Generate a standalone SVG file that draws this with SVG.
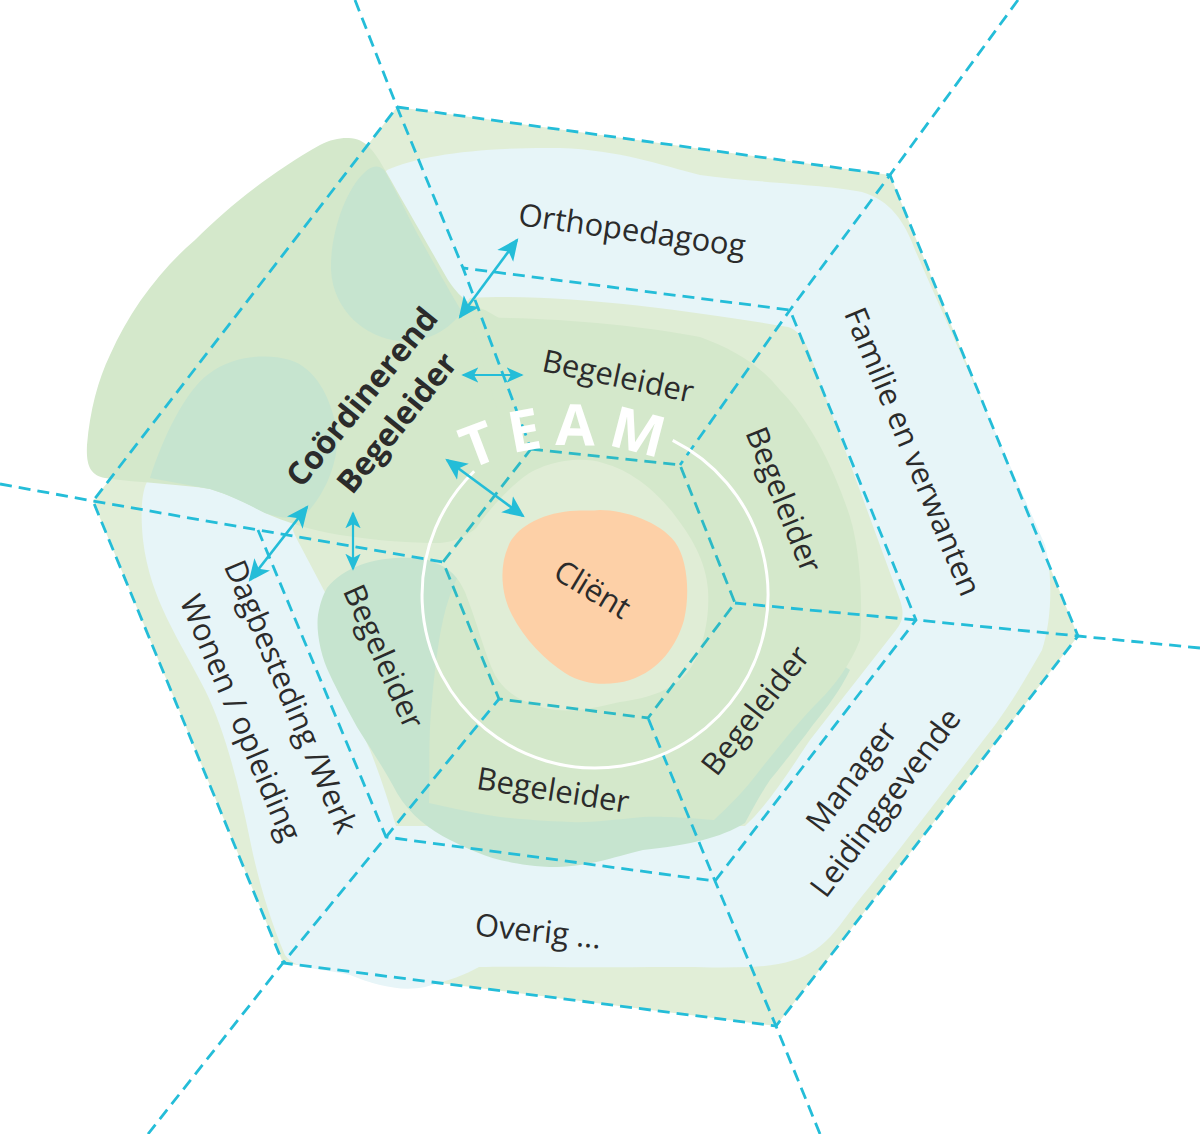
<svg xmlns="http://www.w3.org/2000/svg" width="1200" height="1134" viewBox="0 0 1200 1134">
<style>
.d{fill:none;stroke:#24bdd8;stroke-width:2.8;stroke-dasharray:12 7}
.di{fill:none;stroke:#2cbac6;stroke-width:2.8;stroke-dasharray:12 7}
.t{font-family:"Open Sans","Liberation Sans",sans-serif;font-size:31px;fill:#2b2b2b;text-anchor:middle}
.b{font-weight:bold;font-size:32px}
.ar{fill:none;stroke:#24bdd8;stroke-width:2.6;marker-start:url(#ah);marker-end:url(#ah)}
.as{fill:none;stroke:#24bdd8;stroke-width:2.2;marker-start:url(#ahs);marker-end:url(#ahs)}
</style>
<defs>
<marker id="ah" viewBox="0 0 20 20" refX="18" refY="10" markerWidth="22" markerHeight="22" markerUnits="userSpaceOnUse" orient="auto-start-reverse"><path d="M0,1 L20,10 L0,19 L5,10 Z" fill="#24bdd8"/></marker>
<marker id="ahs" viewBox="0 0 20 20" refX="18" refY="10" markerWidth="17" markerHeight="17" markerUnits="userSpaceOnUse" orient="auto-start-reverse"><path d="M0,1 L20,10 L0,19 L5,10 Z" fill="#24bdd8"/></marker>
<path id="teamArc" d="M 335.4 655.9 A 245 245 0 0 1 817.6 639.1"/>
</defs>
<rect width="1200" height="1134" fill="#ffffff"/>

<g id="background">
<polygon points="397,107 890,175 1078,636 776,1026 283,963 93,501" fill="#e1eed7"/>
<path fill="#e7f5f8" d="M 387,170 C 420,155 480,147 560,148 C 620,150 660,165 700,175 C 760,183 830,185 862,192 C 890,200 905,222 915,250 L 1045,545 C 1053,575 1052,620 1042,650 C 1025,680 1010,705 995,725 L 918,825 C 895,855 875,880 855,905 C 840,925 830,940 815,950 C 800,960 780,966 750,967 C 720,968 690,967 650,967 C 590,968 520,966 479,967 C 465,975 450,980 425,987 C 400,992 375,985 350,975 C 320,968 295,970 285,955 C 270,920 258,880 250,840 C 240,790 225,730 205,690 C 180,640 150,600 143,540 C 140,510 142,490 148,480 L 387,170 Z"/>
<path fill="#dfedd5" d="M 470,298 C 560,292 700,312 788,327 C 800,330 808,345 814,365 L 900,600 C 905,615 902,622 896,630 L 810,740 C 790,770 768,805 745,826 L 396,826 C 388,800 380,775 370,750 L 320,640 C 316,625 322,610 328,598 L 300,545 C 295,535 292,530 293,528 Z"/>
<path fill="#d4e8cb" d="M 347,138 C 365,137 375,152 385,170 C 405,205 428,245 448,280 C 460,298 470,305 485,310 L 520,330 L 525,440 C 515,480 500,505 483,522 C 470,535 455,542 440,543 C 410,543 380,541 340,535 C 310,530 285,522 265,513 C 250,505 235,497 210,489 C 180,484 140,483 105,478 C 90,475 86,465 87,445 C 90,410 98,380 110,355 C 130,310 160,270 195,240 C 230,205 275,170 320,145 C 330,140 338,138 347,138 Z"/>
<path fill="#c6e4cf" d="M 365,172 C 345,190 330,235 331,270 C 333,310 365,338 400,341 C 425,343 447,332 462,312 C 450,292 432,260 418,235 C 405,210 393,185 384,170 C 378,164 371,166 365,172 Z"/>
<path fill="#c6e4cf" d="M 150,478 C 162,440 185,390 210,373 C 230,358 262,352 290,360 C 315,368 330,395 337,430 C 340,460 325,495 305,515 C 290,520 280,518 265,513 C 245,503 230,495 210,489 C 190,485 170,482 150,478 Z"/>
<path fill="#c6e4cf" d="M 327,588 C 345,565 380,556 413,558 C 440,560 460,570 470,585 L 790,630 L 850,670 C 835,700 820,715 807,733 C 790,755 780,768 770,780 C 760,795 752,810 745,823 C 720,838 690,845 643,850 C 610,858 590,866 557,867 C 530,867 510,862 500,860 C 480,855 460,845 450,840 C 430,830 410,815 397,793 C 385,770 365,740 357,727 C 345,705 337,690 330,675 C 320,655 316,630 318,615 C 320,603 323,595 327,588 Z"/>
<path fill="#d4e8cb" d="M 470,318 C 540,316 640,325 700,337 C 735,350 760,365 780,390 C 810,420 835,470 850,517 C 860,550 863,600 860,640 C 850,665 835,685 820,700 C 800,720 780,745 760,770 C 745,790 730,805 714,820 C 690,818 660,816 643,817 C 610,820 590,823 571,822 C 540,821 520,819 500,817 C 470,812 450,808 429,803 C 430,780 428,740 432,700 C 436,660 440,620 452,590 C 460,570 470,550 480,530 C 495,500 505,460 500,420 Z"/>
<path fill="#e0edd6" d="M 520,480 C 540,462 580,455 603,463 C 630,470 655,490 673,513 C 690,535 706,560 708,590 C 710,620 702,655 687,673 C 672,690 650,698 620,702 C 595,708 570,714 545,708 C 520,702 505,692 495,675 C 485,655 478,625 465,592 C 458,577 450,568 435,563 C 450,555 465,545 475,530 C 487,512 505,492 520,480 Z"/>
<path id="client-shape" fill="#fdd0a7" d="M 508,547 C 515,528 540,514 570,511 C 585,510 592,511 600,510 C 625,510 660,522 675,542 C 688,560 690,595 684,620 C 677,645 660,670 630,680 C 610,686 585,686 565,673 C 545,660 525,640 512,615 C 500,592 500,565 508,547 Z"/>
</g>

<g id="grid">
<polygon class="d" points="397,107 890,175 1078,636 776,1026 283,963 93,501"/>
<polyline class="d" points="258,530 386,837 715,881 916,620 790,310 463,268"/>
<polygon class="di" points="531,449 680,465 735,603 648,718 499,699 443,562"/>
<polyline class="d" points="355,0 397,107 463,268 531,449"/>
<polyline class="d" points="1018,0 890,175 790,310 680,465"/>
<polyline class="d" points="1200,648 1078,636 916,620 735,603"/>
<polyline class="d" points="820,1134 776,1026 715,881 648,718"/>
<polyline class="d" points="148,1134 283,963 386,837 499,699"/>
<polyline class="d" points="0,484 93,501 258,530 443,562"/>
</g>

<g id="team-ring">
<path d="M 672.7 440.4 A 173 173 0 1 1 474.2 471.2" fill="none" stroke="#ffffff" stroke-width="3"/>
<text font-family="'Open Sans','Liberation Sans',sans-serif" font-weight="bold" font-size="57" fill="#ffffff" letter-spacing="12"><textPath href="#teamArc" startOffset="50%" text-anchor="middle">TEAM</textPath></text>
</g>

<g id="connectors">
<line class="ar" x1="460" y1="317" x2="517" y2="240"/>
<line class="as" x1="463" y1="375" x2="522" y2="375"/>
<line class="ar" x1="447" y1="460" x2="523" y2="516"/>
<line class="ar" x1="250" y1="580" x2="307" y2="507"/>
<line class="as" x1="353" y1="513" x2="353" y2="569"/>
</g>

<g id="node-client"><text class="t" transform="translate(592,590) rotate(31)" y="10">Cliënt</text></g>
<g id="node-orthopedagoog"><text class="t" transform="translate(632,231) rotate(8)" y="10">Orthopedagoog</text></g>
<g id="node-familie"><text class="t" transform="translate(912,452) rotate(67.5)" y="10">Familie en verwanten</text></g>
<g id="node-manager"><text class="t" transform="translate(852,777) rotate(-53)" y="10">Manager</text><text class="t" transform="translate(886,803) rotate(-53)" y="10">Leidinggevende</text></g>
<g id="node-overig"><text class="t" transform="translate(538,932) rotate(6)" y="10">Overig ...</text></g>
<g id="node-dagbesteding"><text class="t" transform="translate(290,697) rotate(67)" y="10">Dagbesteding /Werk</text></g>
<g id="node-wonen"><text class="t" transform="translate(240,718) rotate(67)" y="10">Wonen / opleiding</text></g>
<g id="node-coordinerend"><text class="t b" transform="translate(362,397) rotate(-51)" y="11">Coördinerend</text><text class="t b" transform="translate(397,423) rotate(-51)" y="11">Begeleider</text></g>
<g id="node-begeleider-top"><text class="t" transform="translate(618,377) rotate(12)" y="10">Begeleider</text></g>
<g id="node-begeleider-right"><text class="t" transform="translate(783,500) rotate(68)" y="10">Begeleider</text></g>
<g id="node-begeleider-rightbottom"><text class="t" transform="translate(756,711) rotate(-52)" y="10">Begeleider</text></g>
<g id="node-begeleider-bottom"><text class="t" transform="translate(553,791) rotate(9)" y="10">Begeleider</text></g>
<g id="node-begeleider-left"><text class="t" transform="translate(383,657) rotate(66)" y="10">Begeleider</text></g>
</svg>
